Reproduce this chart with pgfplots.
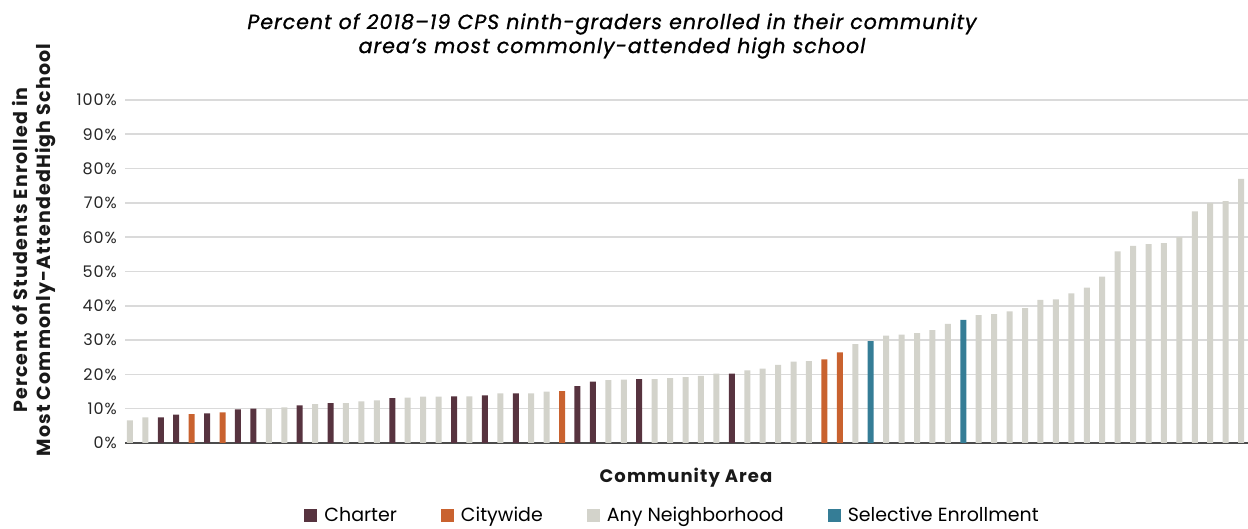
\documentclass[border=0pt]{standalone}
\usepackage{pgfplots}
\pgfplotsset{compat=1.18}
\usepackage{fontspec}
\setmainfont{Poppins}
\newfontfamily\spacedfont{Poppins}[LetterSpace=6]
\newfontfamily\titlefont{Poppins}[LetterSpace=5, FakeBold=1]

\definecolor{charter}{HTML}{57333F}
\definecolor{citywide}{HTML}{C9622F}
\definecolor{neighb}{HTML}{D3D3CB}
\definecolor{selective}{HTML}{357D96}
\definecolor{gridgray}{HTML}{DADADA}

\begin{document}
\begin{tikzpicture}
\path[use as bounding box] (0pt,0pt) rectangle (1248pt,529pt);

\begin{axis}[
at={(125pt,86pt)}, anchor=south west,
scale only axis,
width=1123pt, height=343pt,
xmin=0.68, xmax=73.45,
ymin=0, ymax=100,
ybar, bar width=6pt,
xtick=\empty,
ytick={0,10,...,100},
yticklabel={\pgfmathprintnumber{\tick}\%},
/pgf/number format/assume math mode=true,
yticklabel style={font=\spacedfont\fontsize{16}{16}\selectfont, text=black!85, inner sep=0pt, xshift=-8pt},
major tick length=0pt,
ymajorgrids,
major grid style={draw=gridgray, line width=1.6pt},
axis x line*=bottom, axis y line*=left,
y axis line style={draw=none},
x axis line style={-, draw=black!70, line width=2pt},
legend columns=4,
legend style={at={(0.4876,-0.2113)}, anchor=center, draw=none, fill=none,
  font=\fontsize{19}{19}\selectfont,
  /tikz/every even column/.append style={column sep=42pt}},
legend image code/.code={\fill[#1] (0pt,-7pt) rectangle (13pt,6pt); \path (18pt,0pt);},
clip=false
]

\addplot[fill=charter, draw=none, bar shift=0pt] coordinates {
(3,7.5) (4,8.3) (6,8.6) (8,9.8) (9,10.0) (12,11.0) (14,11.6) (18,13.1)
(22,13.6) (24,13.9) (26,14.5) (30,16.6) (31,17.9) (34,18.6) (40,20.2)};
\addlegendentry{Charter}

\addplot[fill=citywide, draw=none, bar shift=0pt] coordinates {
(5,8.4) (7,8.9) (29,15.1) (46,24.4) (47,26.4)};
\addlegendentry{Citywide}

\addplot[fill=neighb, draw=none, bar shift=0pt] coordinates {
(1,6.6) (2,7.5) (10,10.0) (11,10.4) (13,11.3) (15,11.6) (16,12.1) (17,12.4)
(19,13.2) (20,13.5) (21,13.5) (23,13.6) (25,14.5) (27,14.5) (28,15.0)
(32,18.3) (33,18.5) (35,18.6) (36,18.9) (37,19.2) (38,19.6) (39,20.2)
(41,21.2) (42,21.7) (43,22.8) (44,23.7) (45,23.9) (48,28.8)
(50,31.3) (51,31.6) (52,32.0) (53,32.9) (54,34.7)
(56,37.3) (57,37.6) (58,38.4) (59,39.3) (60,41.7) (61,41.9) (62,43.6)
(63,45.3) (64,48.5) (65,55.9) (66,57.5) (67,58.0) (68,58.3) (69,60.0)
(70,67.5) (71,70.0) (72,70.5) (73,77.0)};
\addlegendentry{Any Neighborhood}

\addplot[fill=selective, draw=none, bar shift=0pt] coordinates {
(49,29.7) (55,35.9)};
\addlegendentry{Selective Enrollment}

\end{axis}

\node[font=\titlefont\itshape\fontsize{20.5}{24}\selectfont, align=center, text=black]
  at (612pt,493pt) {Percent of 2018–19 CPS ninth-graders enrolled in their community\\area’s most commonly-attended high school};
\node[font=\spacedfont\bfseries\fontsize{19}{23}\selectfont, align=center, rotate=90, text=black!90]
  at (34pt,279pt) {Percent of Students Enrolled in\\Most Commonly-AttendedHigh School};
\node[font=\spacedfont\bfseries\fontsize{18}{18}\selectfont, text=black!90] at (686pt,51pt) {Community Area};
\end{tikzpicture}
\end{document}
